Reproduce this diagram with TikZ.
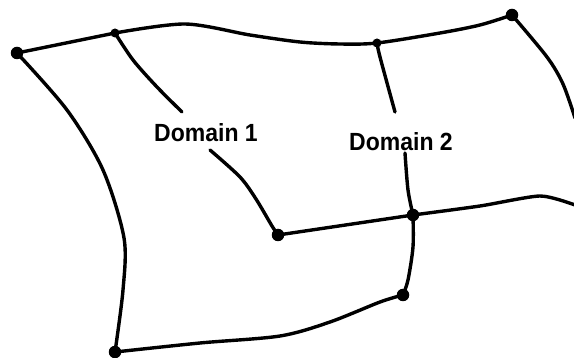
\documentclass[tikz,border=0pt]{standalone}
\usepackage{fontspec}
\setmainfont{Liberation Sans}
\begin{document}
\begin{tikzpicture}[x=1pt,y=-1pt,
  edge/.style={line width=3.4pt, line cap=round, line join=round},
  bigdot/.style={circle, fill=black, inner sep=0pt, minimum size=12.5pt},
  smalldot/.style={circle, fill=black, inner sep=0pt, minimum size=9pt},
  lab/.style={font=\bfseries\fontsize{23}{26}\selectfont, inner sep=0pt, anchor=base}]
\useasboundingbox (0,0) rectangle (574,358);
% junction points
\coordinate (A) at (17,53);
\coordinate (B) at (115,33);
\coordinate (C) at (512,15);
\coordinate (T) at (377,43);
\coordinate (D) at (413,215);
\coordinate (E) at (278,235);
\coordinate (F) at (403,295);
\coordinate (G) at (115,352);
% free ends
\coordinate (R1) at (575,118);
\coordinate (R2) at (575,205);
\coordinate (d1a) at (182,112);
\coordinate (d1b) at (210,150);
\coordinate (d2a) at (395,112);
\coordinate (d2b) at (405,153);
% outer boundary
\draw[edge] (A) -- (B);
\draw[edge] plot[smooth] coordinates {(B) (185,24) (250,35) (300,42) (340,44) (T) (440,33) (480,25) (C)};
\draw[edge] plot[smooth] coordinates {(C) (547,57) (563,84) (R1)};
\draw[edge] plot[smooth] coordinates {(A) (67,110) (103,170) (124,238) (123,290) (G)};
\draw[edge] plot[smooth] coordinates {(G) (200,343) (280,336) (330,322) (380,302) (F)};
% inner lines
\draw[edge] plot[smooth] coordinates {(F) (408,280) (413,247) (D)};
\draw[edge] plot[smooth] coordinates {(D) (408,190) (d2b)};
\draw[edge] plot[smooth] coordinates {(d2a) (380,57) (T)};
\draw[edge] (E) -- (D);
\draw[edge] plot[smooth, tension=0.4] coordinates {(D) (480,206) (540,196) (R2)};
\draw[edge] plot[smooth] coordinates {(B) (133,60) (157,87) (d1a)};
\draw[edge] plot[smooth] coordinates {(d1b) (240,177) (256,199) (272,226) (E)};
% dots
\node[bigdot] (nA) at (A) {};
\node[smalldot] (nB) at (B) {};
\node[bigdot] (nC) at (C) {};
\node[smalldot] (nT) at (T) {};
\node[bigdot] (nD) at (D) {};
\node[bigdot] (nE) at (E) {};
\node[bigdot] (nF) at (F) {};
\node[bigdot] (nG) at (G) {};
% labels
\node[lab] (L1) at (206,142) {\scalebox{1}[1.08]{Domain 1}};
\node[lab] (L2) at (401,151) {\scalebox{1}[1.08]{Domain 2}};
\end{tikzpicture}
\end{document}
